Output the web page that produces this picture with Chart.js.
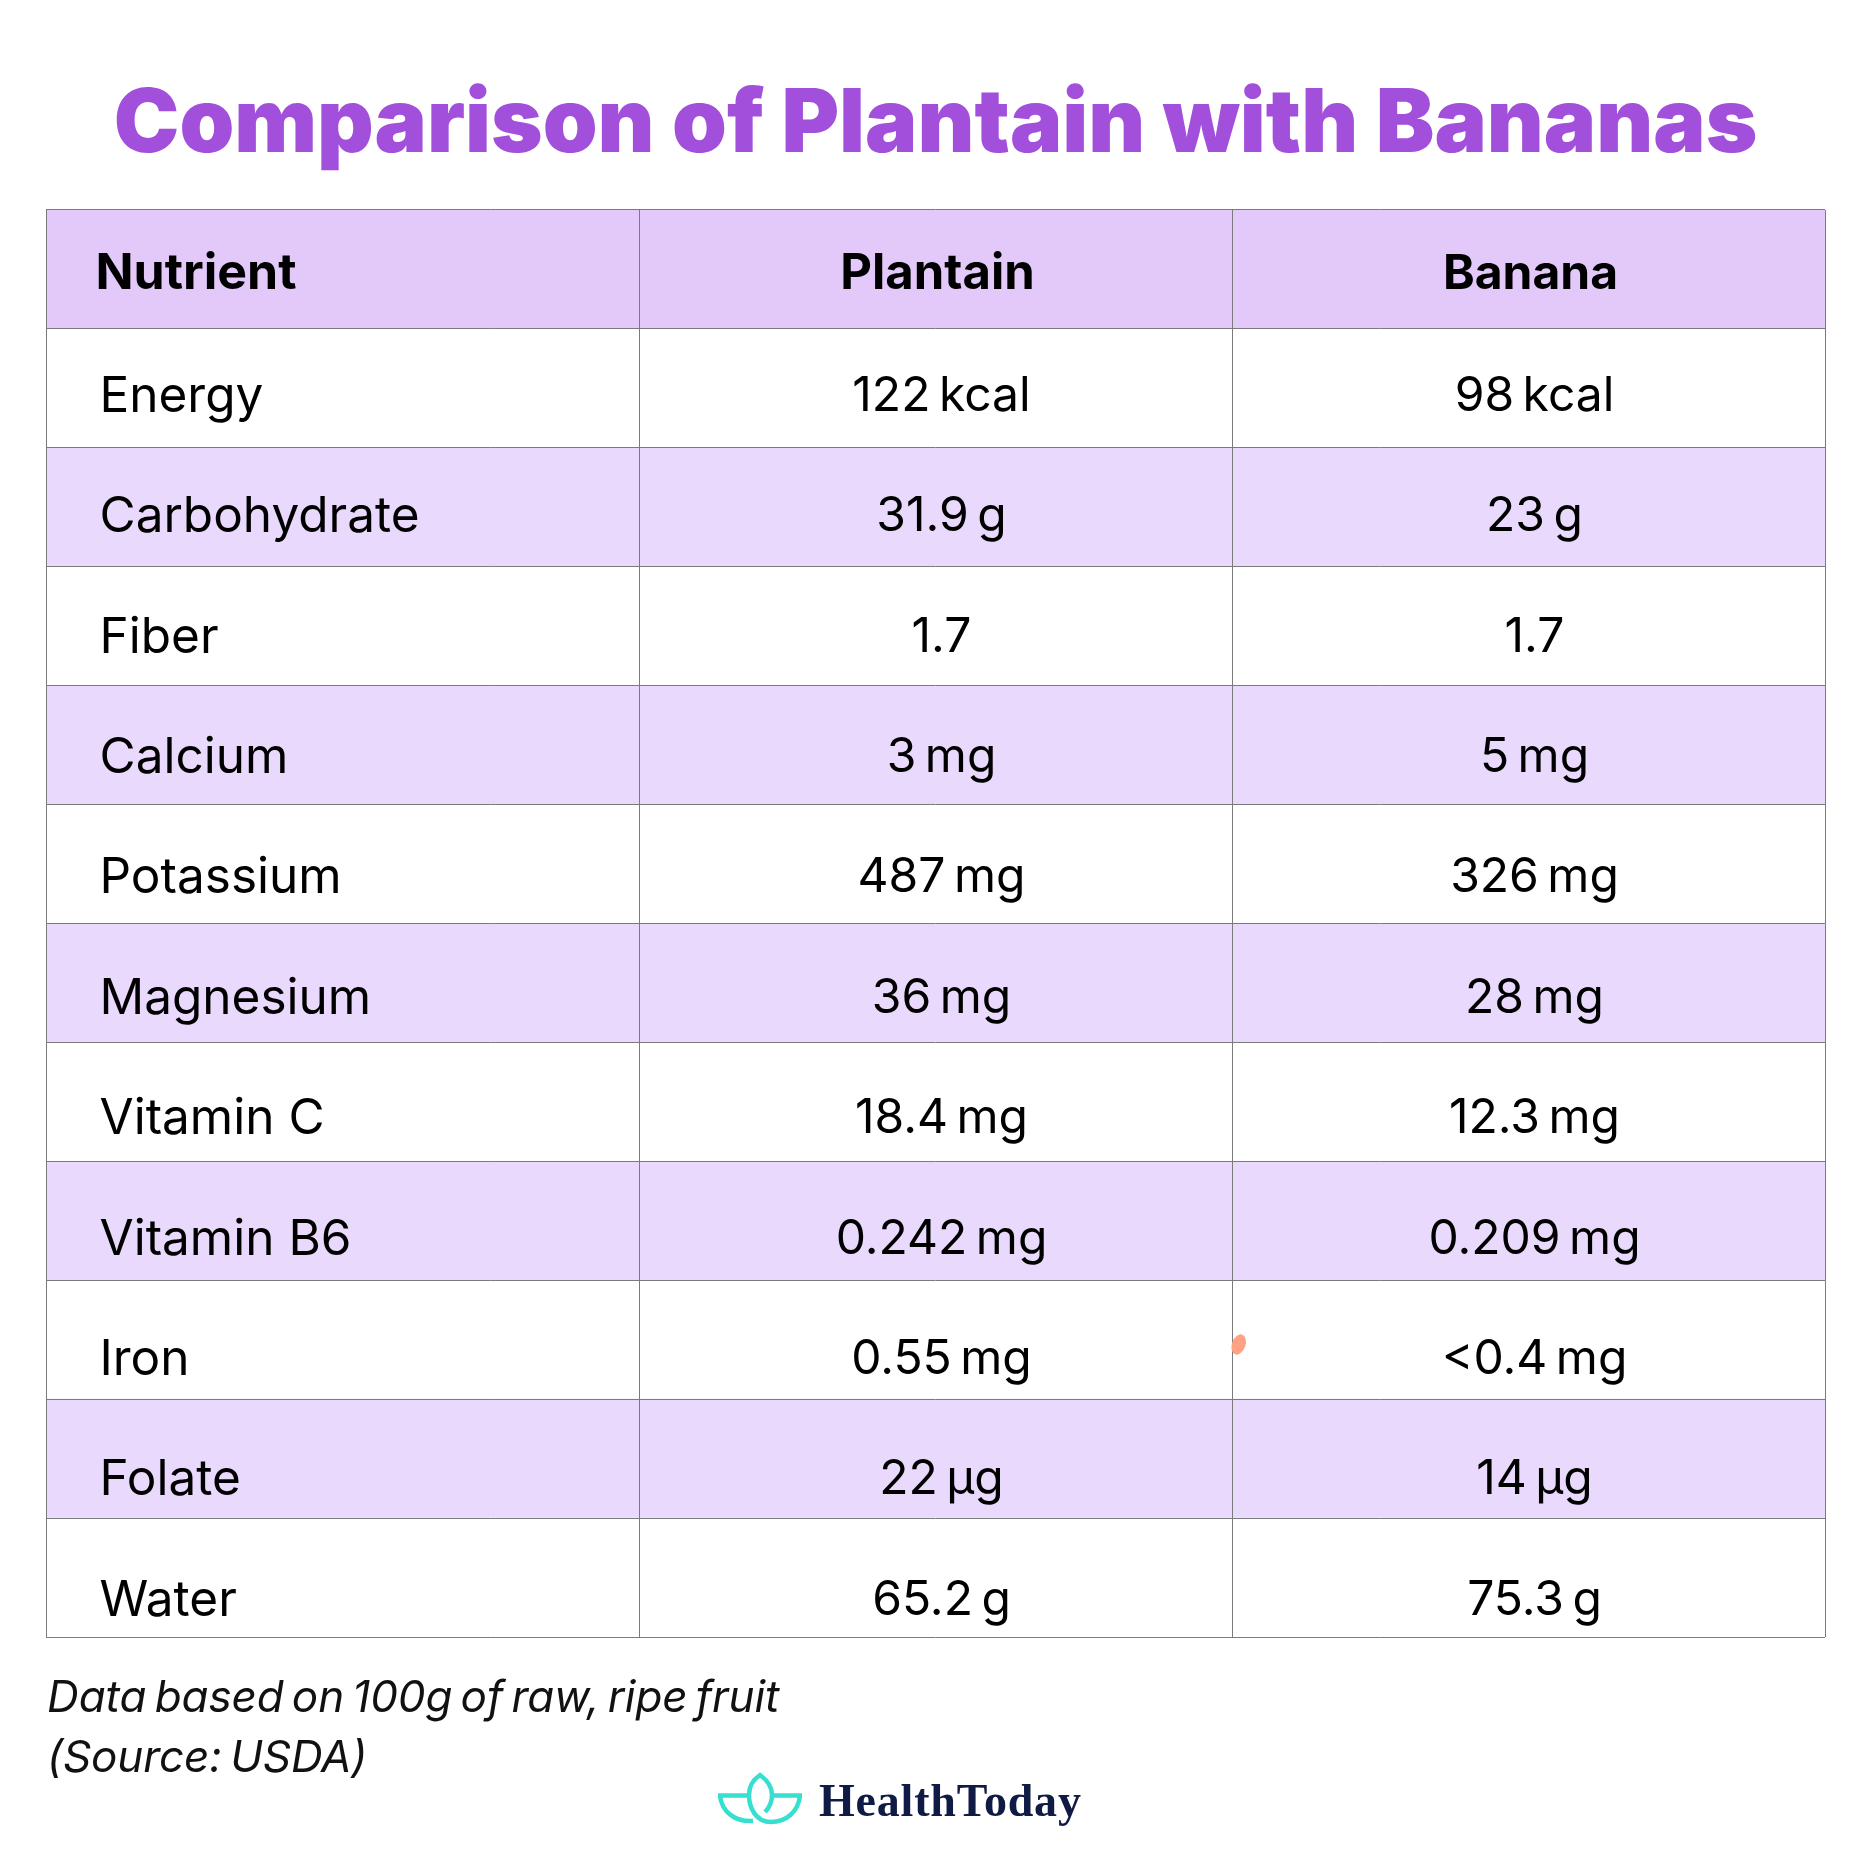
<!DOCTYPE html>
<html><head><meta charset="utf-8">
<style>html,body{margin:0;padding:0;background:#fff}canvas{display:block}</style>
<script src="https://cdn.jsdelivr.net/npm/chart.js@4/dist/chart.umd.js"></script>
</head><body>
<canvas id="c" width="1875" height="1875" style="width:1875px;height:1875px"></canvas>
<script>
const titleText = "Comparison of Plantain with Bananas";
const columns = ["Nutrient", "Plantain", "Banana"];
const nutrients = ["Energy","Carbohydrate","Fiber","Calcium","Potassium","Magnesium","Vitamin C","Vitamin B6","Iron","Folate","Water"];
const plantain = ["122 kcal","31.9 g","1.7","3 mg","487 mg","36 mg","18.4 mg","0.242 mg","0.55 mg","22 µg","65.2 g"];
const banana = ["98 kcal","23 g","1.7","5 mg","326 mg","28 mg","12.3 mg","0.209 mg","<0.4 mg","14 µg","75.3 g"];
const footnote = ["Data based on 100g of raw, ripe fruit","(Source: USDA)"];
const brand = "HealthToday";

const rowLabels = [columns[0], ...nutrients];
const cellColumns = [[columns[0], ...nutrients],[columns[1], ...plantain],[columns[2], ...banana]];
const rowFill = rowLabels.map((_, i) => i === 0 ? "#E3C8FA" : (i % 2 === 0 ? "#E9D9FC" : "#FFFFFF"));
const unitCells = rowLabels.map(() => 1);
const headSizes = [50, 49, 48];

const tableText = {
  id: "tableText",
  afterDraw(chart) {
    const ctx = chart.ctx;
    ctx.save();
    ctx.textBaseline = "alphabetic";
    cellColumns.forEach((col, c) => {
      const meta = chart.getDatasetMeta(c);
      col.forEach((txt, r) => {
        const bar = meta.data[r];
        const head = r === 0;
        ctx.fillStyle = "#000";
        ctx.font = head ? `700 ${headSizes[c]}px Inter` : (c === 0 ? "400 49.5px Inter" : "400 48px Inter");
        ctx.wordSpacing = (head || c === 0) ? "0px" : "-5px";
        ctx.textAlign = c === 0 ? "left" : "center";
        const xc = (bar.base + bar.x) / 2;
        const x = c === 0 ? bar.base + (head ? 49 : 53) : xc + (head ? 2 : 6);
        const y = bar.y + (head ? 20 : 21 + r * 1.48 + (c === 0 ? 1 : 0));
        ctx.fillText(txt, x, y);
      });
    });
    ctx.font = "italic 400 44px Inter";
    ctx.textAlign = "left";
    ctx.fillStyle = "#111";
    ctx.letterSpacing = "-0.1px";
    ctx.wordSpacing = "-4px";
    ctx.fillText(footnote[0], 47, 1712);
    ctx.fillText(footnote[1], 47, 1772);
    ctx.font = "700 46px 'Liberation Serif'";
    ctx.fillStyle = "#0F1A45";
    ctx.letterSpacing = "0.8px";
    ctx.wordSpacing = "0px";
    ctx.fillText(brand, 819, 1816);
    ctx.letterSpacing = "0px";
    // accent fleck
    ctx.fillStyle = "#FFA284";
    ctx.beginPath();
    ctx.ellipse(1238.7, 1344.5, 6.8, 10.5, 0.35, 0, Math.PI * 2);
    ctx.fill();
    // lotus mark
    ctx.strokeStyle = "#36DFD0";
    ctx.lineWidth = 4.5;
    ctx.beginPath();
    ctx.moveTo(800, 1796);
    ctx.bezierCurveTo(798, 1812, 786, 1822, 771, 1822);
    ctx.bezierCurveTo(756, 1822, 749, 1808, 749, 1795);
    ctx.bezierCurveTo(749, 1786, 754, 1779, 760, 1775);
    ctx.bezierCurveTo(767, 1780, 772, 1787, 772, 1795);
    ctx.bezierCurveTo(772, 1802, 769, 1808, 765, 1812);
    ctx.moveTo(720, 1796);
    ctx.bezierCurveTo(722, 1812, 735, 1822, 753, 1821);
    ctx.moveTo(718, 1795.5); ctx.lineTo(749, 1795.5);
    ctx.moveTo(772, 1795.5); ctx.lineTo(802, 1795.5);
    ctx.stroke();
    ctx.restore();
  }
};

new Chart(document.getElementById("c"), {
  type: "bar",
  plugins: [tableText],
  data: {
    labels: rowLabels,
    datasets: columns.map(name => ({
      label: name, data: unitCells, backgroundColor: rowFill, borderWidth: 0,
      barPercentage: 1, categoryPercentage: 1, stack: "table"
    }))
  },
  options: {
    indexAxis: "y",
    responsive: false,
    animation: false,
    devicePixelRatio: 1,
    layout: { padding: { left: 46, right: 50, top: 0, bottom: 238 } },
    plugins: {
      legend: { display: false },
      tooltip: { enabled: false },
      title: {
        display: true, text: titleText, color: "#A24FDC",
        font: { family: "Inter", size: 87.8, weight: "900", lineHeight: 1.2 },
        padding: { top: 73, bottom: 31.6 }
      }
    },
    scales: {
      x: { type: "linear", min: 0, max: columns.length, stacked: true,
           ticks: { display: false, stepSize: 1 },
           grid: { color: "#7B7B7B", lineWidth: 1, drawTicks: false, z: 1 },
           border: { display: false } },
      y: { type: "category", stacked: true,
           ticks: { display: false },
           grid: { color: "#7B7B7B", lineWidth: 1, drawTicks: false, offset: true, z: 1 },
           border: { display: false } }
    }
  }
});
</script>
</body></html>
